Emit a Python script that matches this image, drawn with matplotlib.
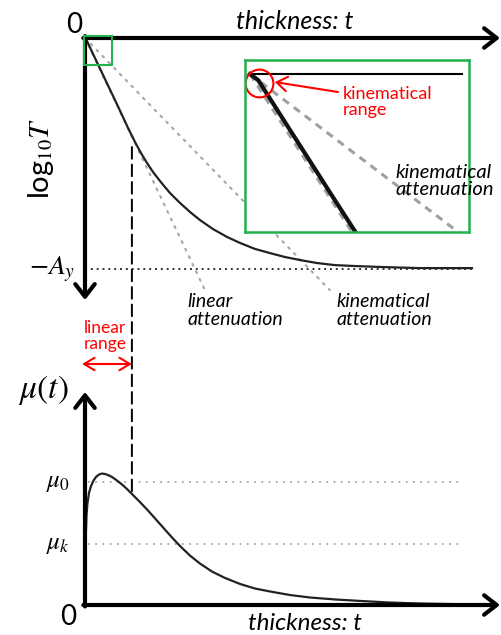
import matplotlib
matplotlib.use('Agg')
import matplotlib.pyplot as plt
from matplotlib.patches import ConnectionPatch, Rectangle

plt.rcParams['font.family'] = ['Lato', 'DejaVu Sans']
plt.rcParams['mathtext.fontset'] = 'stix'

# log10 T against thickness (A_y = 1)
t_top = [0, 0.025, 0.241, 0.482, 0.795, 1.036, 1.205, 1.349, 1.494, 1.639, 1.807, 2.048,
         2.289, 2.530, 2.771, 3.084, 3.422, 3.735, 4.096, 4.458, 4.819, 5.181, 5.590,
         6.024, 6.506, 7.108, 8.072, 9.325]
logT = [0, -0.0046, -0.087, -0.178, -0.296, -0.389, -0.450, -0.498, -0.541, -0.580,
        -0.619, -0.671, -0.714, -0.753, -0.788, -0.827, -0.861, -0.887, -0.913, -0.931,
        -0.948, -0.961, -0.974, -0.983, -0.987, -0.991, -0.996, -0.996]
A_y = 1.0
lin_t, lin_y = [0, 2.89], [0, -1.091]      # linear attenuation
kin_t, kin_y = [0, 5.90], [0, -1.091]      # kinematical attenuation
t_lin_range = 1.13

# attenuation coefficient mu(t)
t_mu = [0.024, 0.036, 0.060, 0.096, 0.145, 0.205, 0.265, 0.337, 0.410, 0.482, 0.554,
        0.651, 0.771, 0.892, 1.012, 1.133, 1.325, 1.518, 1.711, 1.904, 2.096, 2.289,
        2.530, 2.771, 3.060, 3.373, 3.735, 4.096, 4.458, 4.940, 5.422, 6.024, 6.627,
        7.349, 8.072, 9.108]
mu = [0.610, 0.732, 0.829, 0.911, 0.967, 1.012, 1.041, 1.061, 1.069, 1.065, 1.057,
      1.041, 1.012, 0.980, 0.943, 0.902, 0.837, 0.768, 0.695, 0.622, 0.549, 0.480,
      0.402, 0.337, 0.272, 0.220, 0.171, 0.134, 0.110, 0.081, 0.061, 0.045, 0.033,
      0.020, 0.012, 0.006]
mu_0 = 1.0
mu_k = 0.496
mu_at_lin = 0.902
logT_at_lin = -0.472

W, H = 502, 635
fig = plt.figure(figsize=(W / 100, H / 100), dpi=100)

def box(x0, y0, x1, y1):
    # pixel box -> figure fraction
    return [x0 / W, 1 - y1 / H, (x1 - x0) / W, (y1 - y0) / H]

green = '#22b14c'
grey = '#a6a6a6'

# ---- top panel
ax = fig.add_axes(box(85, 38, 500, 300))
ax.set_xlim(0, 10)
ax.set_ylim(-1.134, 0)
ax.axis('off')
ax.plot(t_top, logT, color='#222222', lw=1.6, zorder=3, solid_joinstyle='round')
ax.plot(lin_t, lin_y, color=grey, lw=1.5, ls=(0, (1, 3)), dash_capstyle='round', clip_on=False)
ax.plot(kin_t, kin_y, color=grey, lw=1.5, ls=(0, (1, 3)), dash_capstyle='round', clip_on=False)
ax.plot([0, t_top[-1]], [-A_y, -A_y], color='#333333', lw=1.4, ls=(0, (1, 2)))
arr = dict(arrowstyle='->,head_length=0.45,head_width=0.35', lw=3, color='black',
           mutation_scale=20, shrinkA=0, shrinkB=0)
ax.annotate('', xy=(10, 0), xytext=(-0.04, 0), arrowprops=arr, annotation_clip=False)
ax.annotate('', xy=(0, -1.134), xytext=(0, 0.008), arrowprops=arr, annotation_clip=False)
ax.add_patch(Rectangle((-0.015, -0.116), 0.675, 0.126, fill=False, ec=green, lw=1.5,
                       clip_on=False, zorder=4))

ax.text(-0.25, 0.056, '0', fontsize=20, ha='center', va='center')
ax.text(5.06, 0.07, 'thickness: t', fontsize=18, style='italic', ha='center', va='center')
ax.text(-1.07, -0.52, r'log$_{10}T$', fontsize=21, rotation=90, ha='center', va='center')
ax.text(-0.80, -1.0, r'$-A_y$', fontsize=20, ha='center', va='center')
ax.text(2.46, -1.18, 'linear\nattenuation', fontsize=14, style='italic',
        ha='left', va='center', linespacing=1.05)
ax.text(6.07, -1.18, 'kinematical\nattenuation', fontsize=14, style='italic',
        ha='left', va='center', linespacing=1.05)
ax.text(0.48, -1.29, 'linear\nrange', fontsize=12.5, color='red', ha='center', va='center',
        linespacing=1.0)
ax.annotate('', xy=(-0.07, -1.411), xytext=(t_lin_range, -1.411), annotation_clip=False,
            arrowprops=dict(arrowstyle='<->,head_length=0.5,head_width=0.3', color='red',
                            lw=1.5, mutation_scale=15, shrinkA=0, shrinkB=0))

# ---- bottom panel
bx = fig.add_axes(box(85, 392, 500, 605))
bx.set_xlim(0, 10)
bx.set_ylim(0, 1.732)
bx.axis('off')
bx.plot(t_mu, mu, color='#222222', lw=1.6, zorder=3, solid_joinstyle='round')
bx.plot([0.07, 9.11], [mu_0, mu_0], color=grey, lw=1.3, ls=(0, (1, 3)))
bx.plot([0.07, 9.11], [mu_k, mu_k], color=grey, lw=1.3, ls=(0, (1, 3)))
bx.annotate('', xy=(10, 0), xytext=(-0.04, 0), arrowprops=arr, annotation_clip=False)
bx.annotate('', xy=(0, 1.732), xytext=(0, -0.012), arrowprops=arr, annotation_clip=False)
bx.text(-1.01, 1.75, r'$\mu(t)$', fontsize=24, ha='center', va='center')
bx.text(-0.65, mu_0, r'$\mu_0$', fontsize=18, ha='center', va='center')
bx.text(-0.65, mu_k, r'$\mu_k$', fontsize=18, ha='center', va='center')
bx.text(-0.41, -0.1, '0', fontsize=20, ha='center', va='center')
bx.text(5.30, -0.15, 'thickness: t', fontsize=17.5, style='italic', ha='center', va='center')

# dashed marker of the linear range, across both panels
con = ConnectionPatch(xyA=(t_lin_range, logT_at_lin), coordsA=ax.transData,
                      xyB=(t_lin_range, mu_at_lin), coordsB=bx.transData,
                      color='black', lw=1.4, ls=(0, (6, 3)))
fig.add_artist(con)

# ---- zoomed inset near the origin
ia = fig.add_axes(box(245, 60, 469, 232))
ia.set_xlim(-0.015, 0.66)
ia.set_ylim(-0.116, 0.0103)
ia.set_xticks([])
ia.set_yticks([])
for s in ia.spines.values():
    s.set_color(green)
    s.set_linewidth(1.8)
ia.plot([0, 0.64], [0, 0], color='black', lw=1.5)
ia.plot(lin_t, lin_y, color='#a0a0a0', lw=2.2, ls=(0, (2.5, 2)))
ia.plot(kin_t, kin_y, color='#a0a0a0', lw=2.2, ls=(0, (2.5, 2)))
ia.plot(t_top, logT, color='#111111', lw=3)
ia.plot([0.027], [-0.0066], marker='o', ms=20, mfc='none', mec='red', mew=1.5)
ia.annotate('', xy=(0.075, -0.0059), xytext=(0.265, -0.0132),
            arrowprops=dict(arrowstyle='->,head_length=0.5,head_width=0.35', color='red',
                            lw=1.5, mutation_scale=15, shrinkA=0, shrinkB=0))
ia.text(0.28, -0.0205, 'kinematical\nrange', fontsize=13, color='red', ha='left',
        va='center', linespacing=1.0)
ia.text(7.47, -0.619, 'kinematical\nattenuation', transform=ax.transData, fontsize=14.5,
        style='italic', ha='left', va='center', linespacing=1.05, clip_on=False)

fig.savefig('out.png', dpi=100)
